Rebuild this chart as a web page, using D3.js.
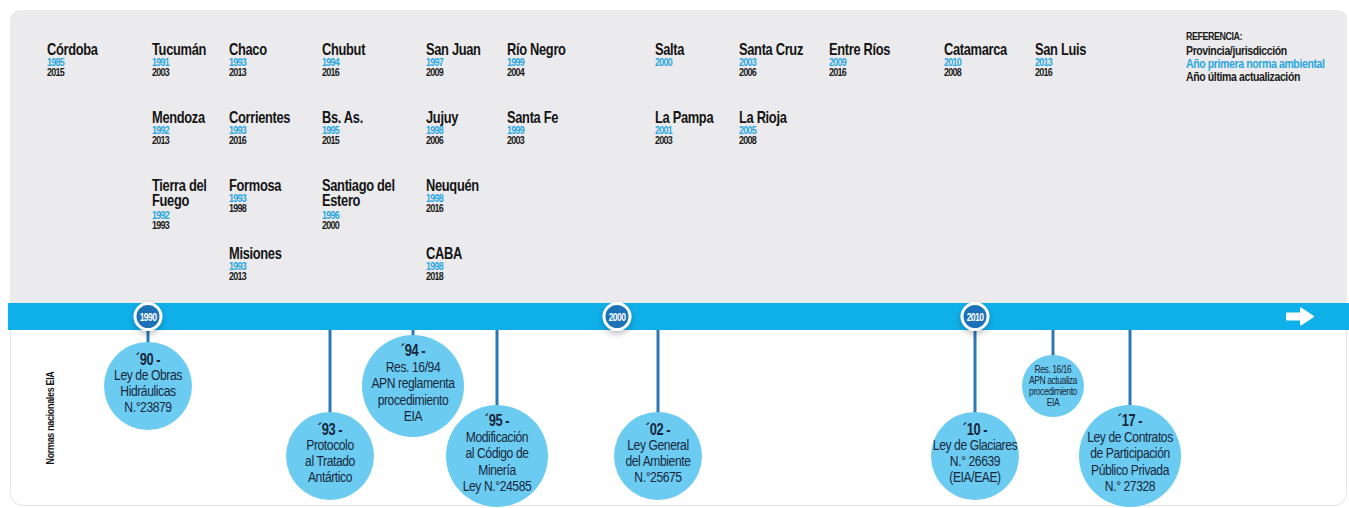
<!DOCTYPE html>
<html>
<head>
<meta charset="utf-8">
<script src="https://cdn.jsdelivr.net/npm/d3@7"></script>
<style>
  html, body { margin: 0; padding: 0; background: #ffffff; }
  svg text { font-family: "Liberation Sans", Arial, sans-serif; }
</style>
</head>
<body>
<div id="my_dataviz"></div>
<script>
// Provinces: name, first environmental norm, last update
const provNames = ["Córdoba", "Tucumán", "Mendoza", "Tierra del\nFuego", "Chaco", "Corrientes", "Formosa", "Misiones",
  "Chubut", "Bs. As.", "Santiago del\nEstero", "San Juan", "Jujuy", "Neuquén", "CABA", "Río Negro", "Santa Fe",
  "Salta", "La Pampa", "Santa Cruz", "La Rioja", "Entre Ríos", "Catamarca", "San Luis"];
const firstYear = [1985, 1991, 1992, 1992, 1993, 1993, 1993, 1993, 1994, 1995, 1996, 1997, 1998, 1998, 1998, 1999, 1999,
  2000, 2001, 2003, 2005, 2009, 2010, 2013];
const lastYear = [2015, 2003, 2013, 1993, 2013, 2016, 1998, 2013, 2016, 2015, 2000, 2009, 2006, 2016, 2018, 2004, 2003,
  null, 2003, 2006, 2008, 2016, 2008, 2016];
// grouping of the provinces in the grid (column group, row inside group)
const provCol = [0, 1, 1, 1, 2, 2, 2, 2, 3, 3, 3, 4, 4, 4, 4, 5, 5, 6, 6, 7, 7, 8, 9, 10];
const provRow = [0, 0, 1, 2, 0, 1, 2, 3, 0, 1, 2, 0, 1, 2, 3, 0, 1, 0, 1, 0, 1, 0, 0, 0];

// National EIA norms
const eventYear = [1990, 1993, 1994, 1995, 2002, 2010, 2016, 2017];
const eventTitle = ["´90 -", "´93 -", "´94 -", "´95 -", "´02 -", "´10 -", "", "´17 -"];
const eventText = [
  ["Ley de Obras", "Hidráulicas", "N.°23879"],
  ["Protocolo", "al Tratado", "Antártico"],
  ["Res. 16/94", "APN reglamenta", "procedimiento", "EIA"],
  ["Modificación", "al Código de", "Minería", "Ley N.°24585"],
  ["Ley General", "del Ambiente", "N.°25675"],
  ["Ley de Glaciares", "N.° 26639", "(EIA/EAE)"],
  ["Res. 16/16", "APN actualiza", "procedimiento", "EIA"],
  ["Ley de Contratos", "de Participación", "Público Privada", "N.° 27328"]
];
const eventTier = [0, 1, 0, 1, 1, 1, 0, 1];

const decadeTicks = [1990, 2000, 2010];
const legendLines = ["REFERENCIA:", "Provincia/jurisdicción", "Año primera norma ambiental", "Año última actualización"];

const width = 1349, height = 508;
const bandY = 303, bandH = 27;
const NARROW = 0.78; // horizontal squeeze to imitate the condensed face

const svg = d3.select("#my_dataviz").append("svg")
  .attr("width", width).attr("height", height);

const defs = svg.append("defs");
const shadow = defs.append("filter").attr("id", "shadow")
  .attr("x", "-50%").attr("y", "-50%").attr("width", "200%").attr("height", "200%");
shadow.append("feDropShadow").attr("dx", 0).attr("dy", 3).attr("stdDeviation", 3)
  .attr("flood-color", "#000").attr("flood-opacity", 0.25);

// panel
svg.append("rect").attr("x", 10.5).attr("y", 10.5).attr("width", 1336).attr("height", 495)
  .attr("rx", 12).attr("fill", "#ffffff").attr("stroke", "#e4e4e6");
svg.append("path")
  .attr("d", `M10,${bandY} L10,22 Q10,10 22,10 L1337,10 Q1347,10 1347,20 L1347,${bandY} Z`)
  .attr("fill", "#ebebed");

// scales
const x = d3.scaleLinear()
  .domain([1990, 1993, 1994, 1995, 2000, 2002, 2010, 2016, 2017])
  .range([148, 330, 413, 497, 617, 658, 975, 1053, 1130]);
const colX = d3.scaleLinear().domain(d3.range(11))
  .range([47, 152, 229, 322, 426, 507, 655, 739, 829, 944, 1035]);
const rowY = d3.scaleLinear().domain([0, 3]).range([55, 259]);
const tierY = d3.scaleOrdinal().domain([0, 1]).range([386, 456]);
const rScale = d3.scaleLinear().domain([3, 4]).range([44, 51]);

// province grid
const provinces = provNames.map((n, i) => ({
  name: n, first: firstYear[i], last: lastYear[i], col: provCol[i], row: provRow[i]
}));
const pg = svg.append("g").selectAll("g").data(provinces).join("g")
  .attr("transform", d => `translate(${colX(d.col)},${rowY(d.row)}) scale(${NARROW},1)`);
pg.each(function (d) {
  const g = d3.select(this);
  const lines = d.name.split("\n");
  lines.forEach((l, k) => {
    g.append("text").attr("y", k * 15.5).attr("font-size", 16.5).attr("font-weight", "bold")
      .attr("fill", "#141414").attr("letter-spacing", -0.4).text(l);
  });
  const off = (lines.length - 1) * 17;
  g.append("text").attr("y", off + 11).attr("font-size", 11.5).attr("fill", "#2aa6e0")
    .attr("font-weight", "bold").attr("letter-spacing", -0.9).text(d.first);
  if (d.last) {
    g.append("text").attr("y", off + 21.5).attr("font-size", 11.5).attr("fill", "#1a1a1a")
      .attr("font-weight", "bold").attr("letter-spacing", -0.9).text(d.last);
  }
});

// legend
const legColors = ["#1a1a1a", "#1a1a1a", "#2aa6e0", "#1a1a1a"];
svg.append("g").attr("transform", `translate(1186,0) scale(${NARROW},1)`)
  .selectAll("text").data(legendLines).join("text")
  .attr("y", (d, i) => (i === 0 ? 40 : 42 + i * 13))
  .attr("font-size", (d, i) => i === 0 ? 11.5 : 13.5)
  .attr("font-weight", "bold")
  .attr("letter-spacing", (d, i) => i === 0 ? -0.6 : -0.5)
  .attr("fill", (d, i) => legColors[i])
  .text(d => d);

// events
const events = eventYear.map((yr, i) => ({
  year: yr, title: eventTitle[i], lines: eventText[i], tier: eventTier[i], minor: eventTitle[i] === ""
}));
events.forEach(d => {
  d.cx = x(d.year);
  d.cy = tierY(d.tier);
  d.r = d.minor ? 31 : rScale(d.lines.length);
});

// stems
svg.append("g").selectAll("line").data(events).join("line")
  .attr("x1", d => d.cx).attr("x2", d => d.cx)
  .attr("y1", bandY + bandH / 2).attr("y2", d => d.cy)
  .attr("stroke", "#2b78b6").attr("stroke-width", 3);

// timeline band
svg.append("rect").attr("x", 8).attr("y", bandY).attr("width", width - 8).attr("height", bandH)
  .attr("fill", "#0fb0ea");

// arrow
const ax = 1300, ay = bandY + bandH / 2;
svg.append("path")
  .attr("d", `M${ax - 13},${ay - 3} L${ax + 1},${ay - 3} L${ax + 1},${ay - 8} L${ax + 13},${ay} L${ax + 1},${ay + 8} L${ax + 1},${ay + 3} L${ax - 13},${ay + 3} Z`)
  .attr("fill", "#ffffff").attr("stroke", "#ffffff").attr("stroke-linejoin", "round").attr("stroke-width", 2);

// decade markers
const mk = svg.append("g").selectAll("g").data(decadeTicks).join("g")
  .attr("transform", d => `translate(${x(d)},${bandY + bandH / 2})`);
mk.append("circle").attr("r", 13).attr("fill", "#1e72b8").attr("stroke", "#ffffff")
  .attr("stroke-width", 3).attr("filter", "url(#shadow)");
mk.append("text").attr("text-anchor", "middle").attr("dy", 4).attr("font-size", 11)
  .attr("transform", `scale(${NARROW},1)`)
  .attr("font-weight", "bold").attr("fill", "#ffffff").attr("letter-spacing", -0.8).text(d => d);

// event bubbles
const eg = svg.append("g").selectAll("g").data(events).join("g")
  .attr("transform", d => `translate(${d.cx},${d.cy})`);
eg.append("circle").attr("r", d => d.r).attr("fill", "#6ccbf1");
eg.each(function (d) {
  const g = d3.select(this).append("g").attr("transform", `scale(${NARROW},1)`);
  const rows = d.minor ? d.lines.map(t => ({ t, b: false })) :
    [{ t: d.title, b: true }].concat(d.lines.map(t => ({ t, b: false })));
  const lh = d.minor ? 11 : (rows.length > 4 ? 16.5 : 16);
  const fs = d.minor ? 11 : 15.5;
  const y0 = -((rows.length - 1) * lh) / 2 - (d.minor ? 0 : 3);
  rows.forEach((row, k) => {
    g.append("text").attr("text-anchor", "middle")
      .attr("y", y0 + k * lh).attr("dy", "0.35em")
      .attr("font-size", row.b ? fs + 1 : fs)
      .attr("font-weight", row.b ? "bold" : "normal")
      .attr("letter-spacing", d.minor ? -0.6 : -0.5)
      .attr("fill", "#16283d").text(row.t);
  });
});

// side label
svg.append("text").attr("transform", `translate(54,418) rotate(-90) scale(${NARROW},1)`)
  .attr("text-anchor", "middle").attr("font-size", 11.5).attr("font-weight", "bold")
  .attr("letter-spacing", -0.4).attr("fill", "#141414").text("Normas nacionales EIA");
</script>
</body>
</html>
